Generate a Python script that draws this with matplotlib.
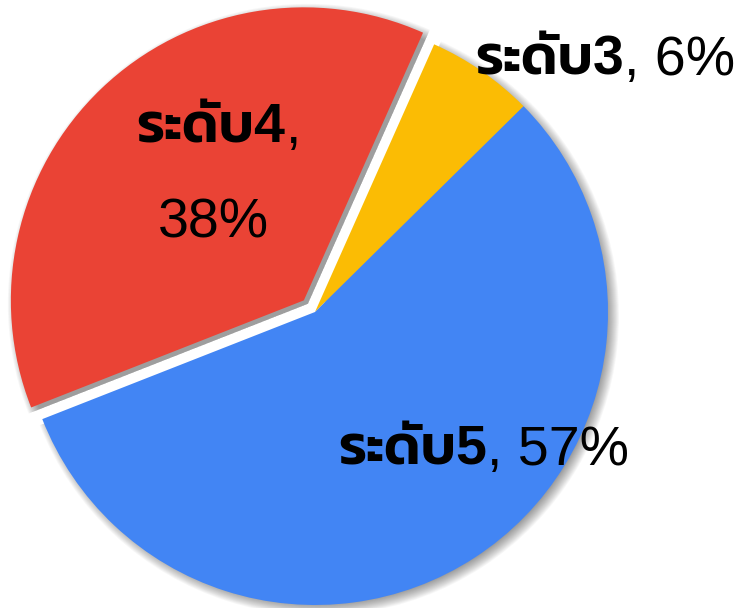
import matplotlib
matplotlib.use("Agg")
import matplotlib.pyplot as plt

# ---- data (slice order: clockwise starting at the top) ----
categories = ["ระดับ3", "ระดับ5", "ระดับ4"]
percent = [6, 57, 38]
colors = ["#FBBC04", "#4285F4", "#EA4335"]
explode = [0.0, 0.0, 0.055]

START = 66.0
FAMILY_B = ["Liberation Sans", "Kanit"]
FAMILY_R = ["Liberation Sans", "Kanit"]
FS = 40

fig = plt.figure(figsize=(7.4, 6.08), dpi=100)
ax = fig.add_axes([0, 0, 1, 1])

# soft drop shadow: stacked translucent dark pies, offset right/down
px = 1.0 / 293.0
for k in range(14):
    ax.pie(percent, explode=explode, startangle=START, counterclock=False,
           radius=0.985 + 0.003 * k, center=(4 * px, -3.5 * px),
           colors=["black"] * 3,
           wedgeprops=dict(linewidth=0, alpha=0.03))

wedges, _ = ax.pie(percent, explode=explode, startangle=START, counterclock=False,
                   colors=colors, wedgeprops=dict(linewidth=0))

ax.set_xlim(-315 * px, (740 - 315) * px)
ax.set_ylim(-(608 - 312) * px, 312 * px)
ax.set_aspect("equal")
ax.axis("off")


def label(x, y, bold_txt, reg_txt, ha="left"):
    t1 = ax.text(x, y, bold_txt, fontsize=FS, fontweight="semibold", family=FAMILY_B,
                 ha=ha, va="baseline", color="black")
    t2 = ax.annotate(reg_txt, xy=(1, 0), xycoords=t1, fontsize=FS,
                     family=FAMILY_R, ha="left", va="bottom", color="black")
    return t1, t2


# ระดับ3 label (outside, top right)
label(0.546, 0.809, categories[0], ", %d%%" % percent[0])
# ระดับ5 label (inside blue)
label(0.0785, -0.522, categories[1], ", %d%%" % percent[1])
# ระดับ4 label (inside red, two lines)
t1 = ax.text(-0.61, 0.577, categories[2], fontsize=FS, fontweight="semibold",
             family=FAMILY_B, ha="left", va="baseline", color="black")
ax.annotate(",", xy=(1, 0), xycoords=t1, fontsize=FS, family=FAMILY_R,
            ha="left", va="bottom", color="black")
ax.text(-0.348, 0.2526, "%d%%" % percent[2], fontsize=FS, family=FAMILY_R,
        ha="center", va="baseline", color="black")

fig.savefig("out.png", dpi=100)
